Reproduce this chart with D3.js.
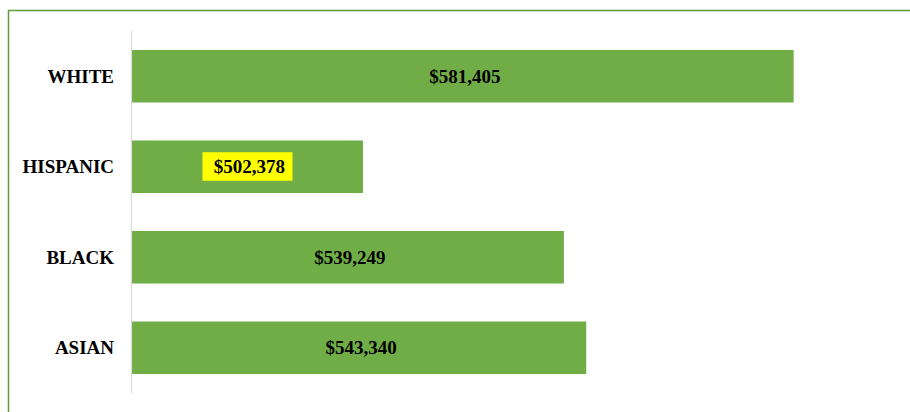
<!DOCTYPE html>
<html>
<head>
<meta charset="utf-8">
<script src="https://cdn.jsdelivr.net/npm/d3@7"></script>
<style>
    body { margin: 0; background: #fff; }
    svg { display: block; }
    .cat, .val { font-family: "Liberation Serif", "Times New Roman", serif; font-weight: bold; font-size: 19px; fill: #000; }
</style>
</head>
<body>
<svg id="chart" width="910" height="412"></svg>
<script>
// values
var categories = ["WHITE", "HISPANIC", "BLACK", "ASIAN"];
var values = [581405, 502378, 539249, 543340];
var highlighted = ["HISPANIC"];
var xDomain = [460000, 600000];

var svg = d3.select("#chart");

// outer frame (only top and left edges are inside the window)
svg.append("rect")
    .attr("x", 8.5).attr("y", 10.5)
    .attr("width", 1000).attr("height", 1000)
    .attr("fill", "none")
    .attr("stroke", "#5e9b3a")
    .attr("stroke-width", 1.5);

var x = d3.scaleLinear().domain(xDomain).range([132, 895]);
var y = d3.scaleBand().domain(categories).range([31, 393])
    .paddingInner(0.42).paddingOuter(0.21);

var data = categories.map(function (c, i) { return {cat: c, val: values[i]}; });
var fmt = d3.format("$,");

svg.selectAll("rect.bar")
    .data(data)
    .enter().append("rect")
    .attr("class", "bar")
    .attr("x", x(xDomain[0]))
    .attr("y", function (d) { return y(d.cat); })
    .attr("width", function (d) { return x(d.val) - x(xDomain[0]); })
    .attr("height", y.bandwidth())
    .attr("fill", "#70ad47");

// vertical axis line
svg.append("line")
    .attr("x1", 131.5).attr("x2", 131.5)
    .attr("y1", 31).attr("y2", 393)
    .attr("stroke", "#d9d9d9")
    .attr("stroke-width", 1.2);

// category labels
svg.selectAll("text.cat")
    .data(data)
    .enter().append("text")
    .attr("class", "cat")
    .attr("x", 114)
    .attr("y", function (d) { return y(d.cat) + y.bandwidth() / 2; })
    .attr("dy", "0.35em")
    .attr("text-anchor", "end")
    .text(function (d) { return d.cat; });

// value labels, one of them on a yellow box
var labels = svg.selectAll("g.val")
    .data(data)
    .enter().append("g")
    .attr("class", "val")
    .attr("transform", function (d) {
        return "translate(" + ((x(xDomain[0]) + x(d.val)) / 2 + 2) + "," + (y(d.cat) + y.bandwidth() / 2) + ")";
    });

labels.filter(function (d) { return highlighted.indexOf(d.cat) >= 0; })
    .append("rect")
    .attr("x", -47).attr("y", -14.5)
    .attr("width", 90).attr("height", 28.5)
    .attr("fill", "#ffff00");

labels.append("text")
    .attr("class", "val")
    .attr("text-anchor", "middle")
    .attr("dy", "0.35em")
    .text(function (d) { return fmt(d.val); });
</script>
</body>
</html>
